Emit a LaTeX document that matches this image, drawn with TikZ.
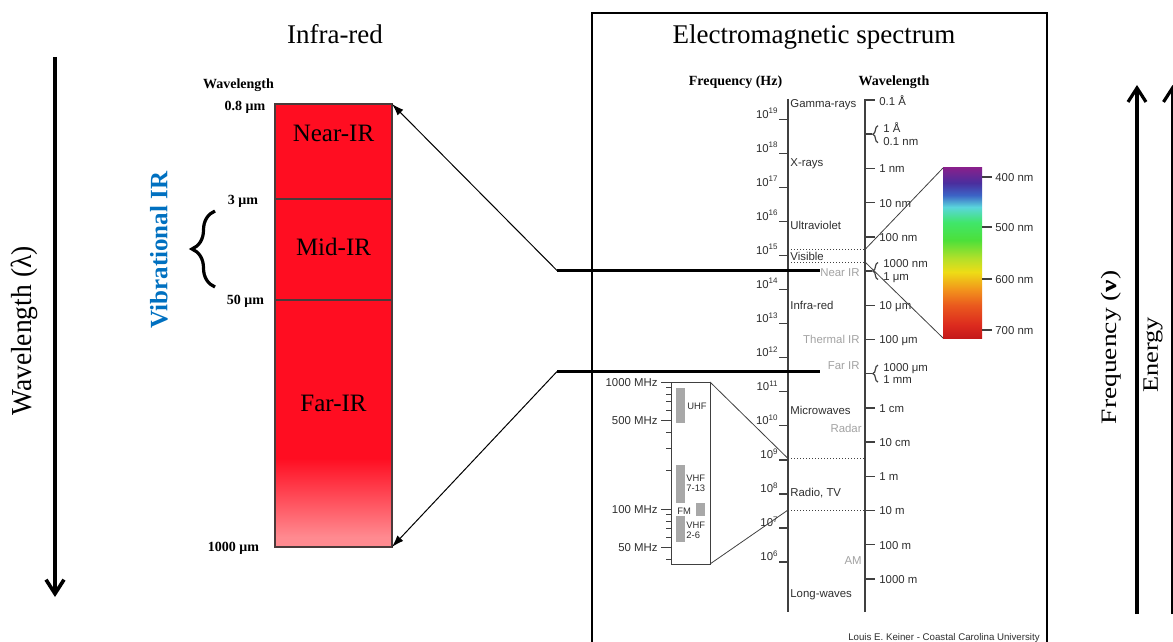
\documentclass[tikz,border=0pt]{standalone}
\usepackage{fontspec}
\setmainfont{Liberation Serif}
\newfontfamily\arialfont{Liberation Sans}
\usepackage{graphicx}
\usetikzlibrary{arrows.meta,decorations.pathreplacing}

% infra-red bar
\definecolor{irred}{HTML}{FF0D21}
\definecolor{irpink}{HTML}{FF8A90}
\definecolor{bandedge}{HTML}{4A3A3A}
\definecolor{vibblue}{HTML}{0070C0}
% spectrum chart
\definecolor{specink}{HTML}{2E2E2E}
\definecolor{specline}{HTML}{404040}
\definecolor{speclight}{HTML}{A2A2A2}
\definecolor{bargray}{HTML}{A8A8A8}
% visible band, red (bottom) to violet (top)
\definecolor{vs1}{HTML}{C41A1A}
\definecolor{vs2}{HTML}{DC2A1E}
\definecolor{vs3}{HTML}{EA5A1E}
\definecolor{vs4}{HTML}{F2921C}
\definecolor{vs5}{HTML}{EEDC16}
\definecolor{vs6}{HTML}{B2E02A}
\definecolor{vs7}{HTML}{4CE03A}
\definecolor{vs8}{HTML}{40E66A}
\definecolor{vs9}{HTML}{5AD6DC}
\definecolor{vs10}{HTML}{3C64C6}
\definecolor{vs11}{HTML}{4A2E9E}
\definecolor{vs12}{HTML}{86208C}

\pgfdeclareverticalshading{farirfade}{100bp}{color(0bp)=(irpink); color(27bp)=(irpink); color(43bp)=(irred); color(100bp)=(irred)}
\pgfdeclareverticalshading{visiblespec}{100bp}{color(0bp)=(vs1); color(25bp)=(vs1); color(28.8bp)=(vs2); color(34.7bp)=(vs3); color(39.1bp)=(vs4); color(44.4bp)=(vs5); color(48.5bp)=(vs6); color(53.8bp)=(vs7); color(59bp)=(vs8); color(63.5bp)=(vs9); color(67bp)=(vs10); color(70.6bp)=(vs11); color(75bp)=(vs12); color(100bp)=(vs12)}

\newcommand\supnum[1]{\raisebox{2.3pt}{\fontsize{4}{4}\selectfont #1}}

\begin{document}
\begin{tikzpicture}[x=0.5pt,y=-0.5pt,
  title/.style={font=\fontsize{13.5}{16}\selectfont, anchor=base, inner sep=0pt},
  bandlabel/.style={font=\fontsize{12.5}{14}\selectfont, inner sep=0pt},
  smallbold/.style={font=\bfseries\fontsize{7}{8}\selectfont, anchor=mid, inner sep=0pt},
  band/.style={draw=bandedge, line width=0.7pt, minimum width=58.5pt, inner sep=0pt, outer sep=0pt, fill=irred},
  bigarrow/.style={line width=1.8pt, -{Straight Barb[length=7pt,width=9pt]}},
  pointer/.style={line width=0.5pt, -{Latex[length=6pt,width=4pt]}},
  boundary/.style={line width=1.3pt},
  speclabel/.style={font=\arialfont\fontsize{5.7}{6.4}\selectfont, text=specink, inner sep=0pt},
  speclight/.style={speclabel, text=speclight, anchor=mid east},
  axisline/.style={draw=specline, line width=0.7pt},
  guide/.style={draw=specline, line width=0.4pt},
  dotguide/.style={draw=specline, line width=0.5pt, densely dotted},
  tinylabel/.style={font=\arialfont\fontsize{4.7}{5}\selectfont, text=specink, inner sep=0pt, align=left},
  sidelabel/.style={rotate=90, inner sep=0pt}]
\useasboundingbox (0,0) rectangle (1173,642);

% ---------------- wavelength direction (left) ----------------
\coordinate (wlTop) at (55,57);
\coordinate (wlBot) at (55,597);
\draw[bigarrow] (wlTop) -- (wlBot);
\node[sidelabel, font=\fontsize{14.5}{16}\selectfont] (wllabel) at (24.5,331)
  {\scalebox{0.95}[1]{Wavelength (λ)}};

% ---------------- infra-red bar ----------------
\node[title] (irtitle) at (335,44) {Infra-red};
\node[band, minimum height=47.5pt] (nearband) at (333.5,151.5) {};
\node[band, minimum height=50.5pt] (midband) at (333.5,249.5) {};
\node[band, minimum height=123.5pt, shading=farirfade] (farband) at (333.5,423.5) {};
\node[bandlabel] (nearlabel) at (333.5,133) {Near-IR};
\node[bandlabel] (midlabel) at (333.5,247) {Mid-IR};
\node[bandlabel] (farlabel) at (333.5,403) {Far-IR};

\node[smallbold] (wlhead) at (238.5,84) {Wavelength};
\node[smallbold] (wl08) at (245,106) {0.8 μm};
\node[smallbold] (wl3) at (243,200) {3 μm};
\node[smallbold] (wl50) at (245.5,300) {50 μm};
\node[smallbold] (wl1000) at (233.5,547) {1000 μm};

\node[sidelabel, font=\bfseries\fontsize{12.5}{14}\selectfont, text=vibblue] (viblabel) at (159,250) {Vibrational IR};
\coordinate (vibLo) at (215,287);
\coordinate (vibHi) at (215,211);
\draw[line width=1.6pt, decorate, decoration={brace, amplitude=11.5pt}] (vibLo) -- (vibHi);

% ---------------- electromagnetic spectrum panel ----------------
\draw[line width=1.3pt] (592,13) rectangle (1047,680);
\node[title] (emtitle) at (814,43.5) {Electromagnetic spectrum};
\node[smallbold] (freqhead) at (735.5,81) {Frequency (Hz)};
\node[smallbold] (wavehead) at (894,81) {Wavelength};

% frequency axis
\coordinate (fTop) at (788,99);
\coordinate (fBot) at (788,612);
\draw[axisline] (fTop) -- (fBot);
\foreach \n in {6,...,19} {
  \pgfmathsetmacro\yy{119.3+(19-\n)*34.05}
  \draw[axisline] (779,\yy) -- (788,\yy);
  \node[speclabel, anchor=base east] (f\n) at (778,\yy-1) {10\supnum{\n}};
}
\node[speclabel, anchor=mid west] (lgamma) at (790,103) {Gamma-rays};
\node[speclabel, anchor=mid west] (lxray) at (790,161.5) {X-rays};
\node[speclabel, anchor=mid west] (luv) at (790,225) {Ultraviolet};
\node[speclabel, anchor=mid west] (lvis) at (790,256) {Visible};
\node[speclight] (lnir) at (860,271.5) {Near IR};
\node[speclabel, anchor=mid west] (lir) at (790,305) {Infra-red};
\node[speclight] (ltir) at (860,339) {Thermal IR};
\node[speclight] (lfir) at (860,365) {Far IR};
\node[speclabel, anchor=mid west] (lmw) at (790,409.5) {Microwaves};
\node[speclight] (lradar) at (862,427.5) {Radar};
\node[speclabel, anchor=mid west] (lradio) at (790,492) {Radio, TV};
\node[speclight] (lam) at (862,559.5) {AM};
\node[speclabel, anchor=mid west] (llong) at (790,593) {Long-waves};

% wavelength axis
\coordinate (wTop) at (865,100);
\coordinate (wBot) at (865,612);
\draw[axisline] (wBot) -- (wTop) -- (875,100);
\node[speclabel, anchor=mid west] (wl0) at (879,100.5) {0.1 Å};
\foreach \k/\txt in {2/1 nm, 3/10 nm, 4/100 nm, 6/10 μm, 7/100 μm, 9/1 cm, 10/10 cm, 11/1 m, 12/10 m, 13/100 m, 14/1000 m} {
  \pgfmathsetmacro\yy{100+34.2*\k}
  \draw[axisline] (865,\yy) -- (875,\yy);
  \node[speclabel, anchor=mid west] (wl\k) at (879,\yy) {\txt};
}
\foreach \k/\ta/\tb in {1/1 Å/0.1 nm, 5/1000 nm/1 μm, 8/1000 μm/1 mm} {
  \pgfmathsetmacro\yy{100+34.2*\k}
  \draw[axisline] (865,\yy) -- (872,\yy);
  \draw[guide, line width=0.6pt, decorate, decoration={brace, amplitude=2.6pt}] (878,\yy+8.5) -- (878,\yy-8.5);
  \node[speclabel, anchor=west, align=left, font=\arialfont\fontsize{5.7}{6.2}\selectfont] (wl\k) at (883,\yy) {\ta\\\tb};
}

% visible band
\node[shading=visiblespec, minimum width=19.5pt, minimum height=85pt, inner sep=0pt, outer sep=0pt] (visbar) at (962.5,253) {};
\coordinate (visTop) at (865,249.5);
\coordinate (visBot) at (865,262);
\draw[dotguide] (788,249.5) -- (visTop);
\draw[dotguide] (788,262) -- (visBot);
\draw[guide] (visTop) -- (visbar.north west);
\draw[guide] (visBot) -- (visbar.south west);
\foreach \y/\txt in {177/400 nm, 227/500 nm, 279/600 nm, 330/700 nm} {
  \draw[axisline] (982,\y) -- (992,\y);
  \node[speclabel, anchor=mid west] (vis\y) at (995,\y) {\txt};
}

% radio / TV inset
\coordinate (ghz) at (788,458.5);
\coordinate (tenm) at (788,510);
\draw[dotguide] (ghz) -- (865,458.5);
\draw[dotguide] (tenm) -- (866,510);
\node[draw=specline, line width=0.5pt, minimum width=19.5pt, minimum height=91pt, inner sep=0pt, outer sep=0pt] (radiobox) at (690.5,473) {};
\draw[guide] (radiobox.north east) -- (ghz);
\draw[guide] (radiobox.south east) -- (tenm);
\foreach \f in {900,800,700,600,400,300,200,90,80,70,60,40} {
  \pgfmathsetmacro\yy{382+(3-log10(\f))*127}
  \draw[guide, line width=0.5pt] (666,\yy) -- (671,\yy);
}
\foreach \f/\txt in {1000/1000 MHz, 500/500 MHz, 100/100 MHz, 50/50 MHz} {
  \pgfmathsetmacro\yy{382+(3-log10(\f))*127}
  \draw[guide, line width=0.5pt] (661,\yy) -- (671,\yy);
  \node[speclabel, anchor=mid east] (mhz\f) at (658,\yy) {\txt};
}
\fill[bargray] (676,388) rectangle (685,423);
\fill[bargray] (676,465) rectangle (685,503);
\fill[bargray] (696,503) rectangle (705,516);
\fill[bargray] (676,516) rectangle (685,542);
\node[tinylabel, anchor=mid west] (uhf) at (687,405) {UHF};
\node[tinylabel, anchor=west] (vhfhi) at (686,483) {VHF\\7-13};
\node[tinylabel, anchor=mid west] (fm) at (677,509.5) {FM};
\node[tinylabel, anchor=west] (vhflo) at (686,530) {VHF\\2-6};

\node[speclabel, font=\arialfont\fontsize{4.85}{5.5}\selectfont, anchor=mid] (credit) at (944,636) {Louis E. Keiner - Coastal Carolina University};

% ---------------- infra-red window on the spectrum ----------------
\coordinate (nirL) at (557,270.5);
\coordinate (nirR) at (820,270.5);
\coordinate (firL) at (557,371.5);
\coordinate (firR) at (820,371.5);
\draw[boundary] (nirL) -- (nirR);
\draw[boundary] (firL) -- (firR);
\draw[pointer] (nirL) -- (nearband.north east);
\draw[pointer] (firL) -- (farband.south east);

% ---------------- frequency and energy direction (right) ----------------
\coordinate (frBot) at (1137,614);
\coordinate (frTop) at (1137,85);
\draw[bigarrow, line width=1.6pt] (frBot) -- (frTop);
\node[sidelabel, font=\fontsize{11}{13}\selectfont] (frlabel) at (1111,347.5)
  {\scalebox{1.25}[1]{Frequency (\textbf{ν})}};
\coordinate (enBot) at (1172.5,614);
\coordinate (enTop) at (1172.5,85);
\draw[bigarrow, line width=1.6pt] (enBot) -- (enTop);
\node[sidelabel, font=\fontsize{11}{13}\selectfont] (enlabel) at (1153,355)
  {\scalebox{1.2}[1]{Energy}};
\end{tikzpicture}
\end{document}
